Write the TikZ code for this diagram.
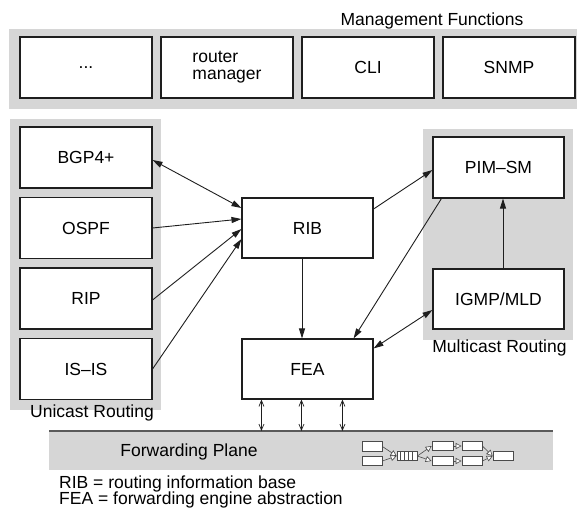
\documentclass[tikz,border=0pt]{standalone}
\usepackage{fontspec}
\setmainfont{Liberation Sans}
\usetikzlibrary{arrows.meta,calc}
\definecolor{bggray}{RGB}{214,214,214}
\definecolor{edge}{RGB}{30,30,30}
\definecolor{fpline}{RGB}{90,90,90}
\begin{document}
\begin{tikzpicture}[x=1pt,y=-1pt,
  area/.style={fill=bggray,draw=none},
  box/.style={draw=edge,fill=white,line width=1.1pt,minimum width=132pt,minimum height=61pt,inner sep=0pt,font=\fontsize{17.5}{17}\selectfont,align=center},
  lbl/.style={font=\fontsize{17.5}{17}\selectfont,inner sep=0pt},
  conn/.style={draw=edge,line width=0.9pt,-{Triangle[length=10pt,width=6pt]}},
  dconn/.style={draw=edge,line width=0.9pt,{Triangle[length=10pt,width=6pt]}-{Triangle[length=10pt,width=6pt]}},
  barb/.style={draw=edge,line width=0.7pt,{Straight Barb[length=6pt,width=5pt]}-{Straight Barb[length=6pt,width=5pt]}},
  mini/.style={draw=edge!80,fill=white,line width=0.7pt,minimum width=20pt,minimum height=9.5pt,inner sep=0pt},
  miniarr/.style={draw=edge!80,line width=0.6pt,-{Triangle[fill=white,length=6pt,width=6pt]}}
]
\useasboundingbox (0,0) rectangle (577,510);

% gray areas
\fill[bggray] (9,29) rectangle (577,109);
\fill[bggray] (10,119) rectangle (161,410);
\fill[bggray] (423,129) rectangle (573,340);
\fill[bggray] (49,431) rectangle (553,470);
\coordinate (fpl) at (49,431);
\coordinate (fpr) at (553,431);
\draw[fpline,line width=1.4pt] (fpl) -- (fpr);

% management functions
\node[lbl,anchor=base] (mft) at (432,26) {Management Functions};
\node[box] (dots) at (86,67.5) {...};
\node[box,align=left] (rm) at (227,67.5) {router\\manager};
\node[box] (cli) at (368,67.5) {CLI};
\node[box] (snmp) at (509,67.5) {SNMP};

% unicast
\node[box] (bgp) at (86,157.5) {BGP4+};
\node[box] (ospf) at (86,228) {OSPF};
\node[box] (rip) at (86,298.5) {RIP};
\node[box] (isis) at (86,369) {IS–IS};
\node[lbl,anchor=base] (ur) at (92,417) {Unicast Routing};

% core
\node[box,minimum width=131pt,minimum height=60pt] (rib) at (307.5,228) {RIB};
\node[box,minimum width=131pt,minimum height=60pt] (fea) at (307.5,369) {FEA};

% multicast
\node[box,minimum width=131pt] (pim) at (498.5,167.5) {PIM–SM};
\node[box,minimum width=131pt,minimum height=60pt] (igmp) at (498.5,299) {IGMP/MLD};
\node[lbl,anchor=base] (mr) at (499.5,352) {Multicast Routing};

% forwarding plane
\node[lbl] (fp) at (189,452) {Forwarding Plane};
\node[lbl,anchor=base west] (l1) at (59,488) {RIB = routing information base};
\node[lbl,anchor=base west] (l2) at (59,504) {FEA = forwarding engine abstraction};

% connectors
\draw[dconn] ($(bgp.east)+(0,2.5)$) -- ($(rib.west)+(0,-20)$);
\draw[conn] (ospf.east) -- ($(rib.west)+(0,-9)$);
\draw[conn] ($(rip.east)+(0,1.5)$) -- ($(rib.west)+(0,1)$);
\draw[conn] (isis.east) -- ($(rib.west)+(0,11)$);
\draw[conn] ($(rib.east)+(0,-19)$) -- ($(pim.west)+(0,2.5)$);
\draw[conn] ($(pim.south west)+(9,0)$) -- ($(fea.north east)+(-20,0)$);
\draw[dconn] ($(igmp.west)+(0,11)$) -- ($(fea.north east)+(0,10)$);
\draw[conn] ($(igmp.north)+(4.5,0)$) -- ($(pim.south)+(4.5,0)$);
\draw[conn] ($(rib.south)+(-5.5,0)$) -- ($(fea.north)+(-5.5,0)$);

\coordinate (f1) at ($(fea.south west)+(20,0)$);
\coordinate (f2) at ($(fea.south west)+(60,0)$);
\coordinate (f3) at ($(fea.south west)+(101,0)$);
\draw[barb] (f1) -- (f1 |- fpl);
\draw[barb] (f2) -- (f2 |- fpl);
\draw[barb] (f3) -- (f3 |- fpl);

% pipeline
\node[mini] (a1) at (372,446.5) {};
\node[mini] (a2) at (372,461) {};
\node[mini] (q) at (407,456) {};
\foreach \k in {1,2,3,4} \draw[edge!80,line width=0.6pt] ($(q.south west)+(4*\k,0)$) -- ($(q.north west)+(4*\k,0)$);
\node[mini,minimum width=21pt] (b1) at (442.5,446) {};
\node[mini,minimum width=21pt] (b2) at (442.5,461) {};
\node[mini] (c1) at (472,446) {};
\node[mini] (c2) at (472,461) {};
\node[mini] (d) at (503,456) {};
\draw[miniarr] (a1.east) -- (q.west);
\draw[miniarr] (a2.east) -- (q.west);
\draw[miniarr] (q.east) -- (b1.west);
\draw[miniarr] (q.east) -- (b2.west);
\draw[miniarr] (b1.east) -- (c1.west);
\draw[miniarr] (b2.east) -- (c2.west);
\draw[miniarr] (c1.east) -- (d.west);
\draw[miniarr] (c2.east) -- (d.west);
\end{tikzpicture}
\end{document}
